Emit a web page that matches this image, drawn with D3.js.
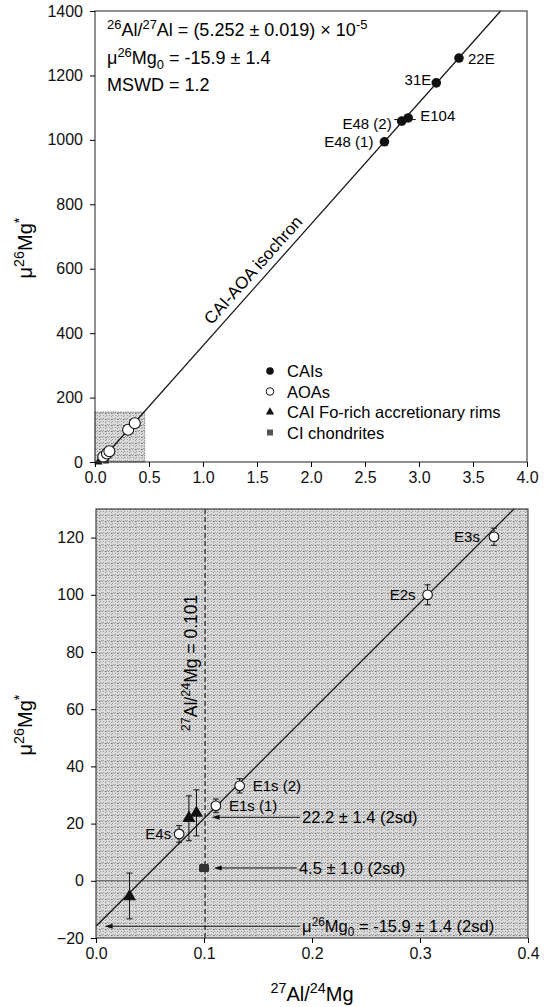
<!DOCTYPE html>
<html>
<head>
<meta charset="utf-8">
<script src="https://cdn.jsdelivr.net/npm/d3@7"></script>
<style>
  body { margin: 0; background: #fff; }
  svg { font-family: "Liberation Sans", Arial, sans-serif; }
</style>
</head>
<body>
<div class="chart-container"></div>
<script>
// CAIs (top panel only)
const caiX = [2.68, 2.84, 2.90, 3.16, 3.37];
const caiY = [994, 1058, 1068, 1177, 1254];
const caiLabels = ["E48 (1)", "E48 (2)", "E104", "31E", "22E"];

// AOAs
const aoaX = [0.077, 0.111, 0.133, 0.307, 0.3685];
const aoaY = [16.4, 26.2, 33.2, 100.0, 120.3];
const aoaErr = [2.9, 2.4, 2.5, 3.5, 3.0];
const aoaLabels = ["E4s", "E1s (1)", "E1s (2)", "E2s", "E3s"];

// CAI Fo-rich accretionary rims
const rimX = [0.031, 0.086, 0.093];
const rimY = [-5.5, 21.9, 23.7];
const rimLo = [-13.3, 14.0, 15.7];
const rimHi = [2.7, 29.7, 31.8];

// CI chondrites
const ciX = [0.1];
const ciY = [4.5];

// isochron
const isoIntercept = -15.9;
const isoSlope = 377;
const alMgRef = 0.101;

const topXTicks = [0, 0.5, 1.0, 1.5, 2.0, 2.5, 3.0, 3.5, 4.0];
const topYTicks = [0, 200, 400, 600, 800, 1000, 1200, 1400];
const botXTicks = [0, 0.1, 0.2, 0.3, 0.4];
const botYTicks = [-20, 0, 20, 40, 60, 80, 100, 120];

const width = 549, height = 1007;
const svg = d3.select(".chart-container").append("svg")
    .attr("width", width).attr("height", height);

// stipple texture for shaded regions
const defs = svg.append("defs");
const pat = defs.append("pattern")
    .attr("id", "stip").attr("patternUnits", "userSpaceOnUse")
    .attr("width", 6).attr("height", 6);
pat.append("rect").attr("width", 6).attr("height", 6).attr("fill", "#dadada");
pat.append("path")
    .attr("d", "M0,6L2,4 M3,3L5,1 M4,6L6,4 M1,2L2,1")
    .attr("stroke", "#7e7e7e").attr("stroke-width", 0.7);
pat.append("rect").attr("x", 3).attr("y", 5).attr("width", 1).attr("height", 1).attr("fill", "#666");

// rich text helper: parts = [[text, "sup"|"sub"|""]]
function richText(sel, parts, size) {
    let shift = 0;
    parts.forEach(([t, mode]) => {
        const ts = sel.append("tspan").text(t);
        let target = 0, fs = size;
        if (mode === "sup") { target = -size * 0.38; fs = size * 0.72; }
        if (mode === "sub") { target = size * 0.25; fs = size * 0.72; }
        ts.attr("dy", target - shift).attr("font-size", fs);
        shift = target;
    });
    return sel;
}

function frame(g, x, y) {
    g.append("rect")
        .attr("x", x.range()[0]).attr("y", y.range()[1])
        .attr("width", x.range()[1] - x.range()[0])
        .attr("height", y.range()[0] - y.range()[1])
        .attr("fill", "none").attr("stroke", "#333").attr("stroke-width", 1.1);
}

function axes(g, x, y, xt, yt, xfmt, yfmt) {
    g.append("g")
        .attr("transform", `translate(0,${y.range()[0]})`)
        .call(d3.axisBottom(x).tickValues(xt).tickFormat(xfmt).tickSize(5).tickPadding(5).tickSizeOuter(0))
        .call(a => a.select(".domain").remove())
        .call(a => a.selectAll("text").attr("font-size", 16).attr("font-family", null).attr("fill", "#111"));
    g.append("g")
        .attr("transform", `translate(${x.range()[0]},0)`)
        .call(d3.axisLeft(y).tickValues(yt).tickFormat(yfmt).tickSize(5).tickPadding(7).tickSizeOuter(0))
        .call(a => a.select(".domain").remove())
        .call(a => a.selectAll("text").attr("font-size", 16).attr("font-family", null).attr("fill", "#111"));
}

function isoLine(g, x, y) {
    const x0 = x.domain()[0], x1 = x.domain()[1];
    const y0 = y.domain()[0], y1 = y.domain()[1];
    let a = Math.max(x0, (y0 - isoIntercept) / isoSlope);
    let b = Math.min(x1, (y1 - isoIntercept) / isoSlope);
    g.append("line")
        .attr("x1", x(a)).attr("y1", y(isoIntercept + isoSlope * a))
        .attr("x2", x(b)).attr("y2", y(isoIntercept + isoSlope * b))
        .attr("stroke", "#111").attr("stroke-width", 1.2);
}

function yLabel(g, cx, cy) {
    const t = g.append("text")
        .attr("transform", `translate(${cx},${cy}) rotate(-90)`)
        .attr("text-anchor", "middle").attr("font-size", 20);
    richText(t, [["μ", ""], ["26", "sup"], ["Mg", ""], ["*", "sup"]], 20);
}

// ---------------- top panel ----------------
const xT = d3.scaleLinear().domain([0, 4]).range([95, 527]);
const yT = d3.scaleLinear().domain([0, 1400]).range([462, 11]);
const topG = svg.append("g");

topG.append("rect")
    .attr("x", xT(0)).attr("y", yT(155))
    .attr("width", xT(0.46) - xT(0)).attr("height", yT(0) - yT(155))
    .attr("fill", "url(#stip)").attr("stroke", "#666").attr("stroke-width", 0.8)
    .attr("stroke-dasharray", "1.5,1");

isoLine(topG, xT, yT);

// rims and CI in overview (hidden under the AOAs mostly)
topG.selectAll(".ci").data(ciX).join("rect")
    .attr("x", (d) => xT(d) - 3).attr("y", (d, i) => yT(ciY[i]) - 3)
    .attr("width", 6).attr("height", 6).attr("fill", "#333");
topG.selectAll(".rim").data(rimX).join("path")
    .attr("d", d3.symbol(d3.symbolTriangle, 30)())
    .attr("transform", (d, i) => `translate(${xT(d)},${yT(Math.max(rimY[i], 0))})`)
    .attr("fill", "#111");

topG.selectAll(".aoaT").data(aoaX).join("circle")
    .attr("cx", d => xT(d)).attr("cy", (d, i) => yT(aoaY[i]))
    .attr("r", 5.5).attr("fill", "#fff").attr("stroke", "#111").attr("stroke-width", 1.1);

// horizontal error bars on E48 (2)/E104
topG.append("line")
    .attr("x1", xT(caiX[1] - 0.07)).attr("x2", xT(caiX[2] + 0.07))
    .attr("y1", yT((caiY[1] + caiY[2]) / 2)).attr("y2", yT((caiY[1] + caiY[2]) / 2))
    .attr("stroke", "#111").attr("stroke-width", 1);

topG.selectAll(".cai").data(caiX).join("circle")
    .attr("cx", d => xT(d)).attr("cy", (d, i) => yT(caiY[i]))
    .attr("r", 4.8).attr("fill", "#111");

const caiLab = topG.append("g").attr("font-size", 15);
const caiAnchor = ["end", "end", "start", "end", "start"];
const caiDx = [-11, -10, 12, -5, 9];
const caiDy = [0, 2, -2, -3, 0];
caiLabels.forEach((l, i) => {
    caiLab.append("text")
        .attr("x", xT(caiX[i]) + caiDx[i]).attr("y", yT(caiY[i]) + 5.5 + caiDy[i])
        .attr("text-anchor", caiAnchor[i]).text(l);
});

// isochron label
{
    const lx = 1.55, ly = isoIntercept + isoSlope * lx;
    const ang = Math.atan2(yT(isoIntercept + isoSlope * 2) - yT(isoIntercept + isoSlope * 1), xT(2) - xT(1)) * 180 / Math.PI;
    topG.append("text")
        .attr("transform", `translate(${xT(lx) - 5},${yT(ly) - 5}) rotate(${ang})`)
        .attr("text-anchor", "middle").attr("font-size", 17)
        .text("CAI-AOA isochron");
}

// annotation block
const ann = topG.append("g").attr("font-size", 18);
richText(ann.append("text").attr("x", 107).attr("y", 36),
    [["26", "sup"], ["Al/", ""], ["27", "sup"], ["Al = (5.252 ± 0.019) × 10", ""], ["-5", "sup"]], 18);
richText(ann.append("text").attr("x", 107).attr("y", 64),
    [["μ", ""], ["26", "sup"], ["Mg", ""], ["0", "sub"], [" = -15.9 ± 1.4", ""]], 18);
ann.append("text").attr("x", 107).attr("y", 91).text("MSWD = 1.2");

// legend
const legNames = ["CAIs", "AOAs", "CAI Fo-rich accretionary rims", "CI chondrites"];
const leg = topG.append("g").attr("font-size", 16.5);
legNames.forEach((n, i) => {
    const cy = 371 + i * 20.5;
    if (i === 0) leg.append("circle").attr("cx", 270).attr("cy", cy).attr("r", 3.8).attr("fill", "#111");
    if (i === 1) leg.append("circle").attr("cx", 270).attr("cy", cy).attr("r", 3.8).attr("fill", "#fff").attr("stroke", "#111");
    if (i === 2) leg.append("path").attr("d", d3.symbol(d3.symbolTriangle, 30)()).attr("transform", `translate(270,${cy})`).attr("fill", "#111");
    if (i === 3) leg.append("rect").attr("x", 267).attr("y", cy - 3).attr("width", 6).attr("height", 6).attr("fill", "#555");
    leg.append("text").attr("x", 287).attr("y", cy + 6).text(n);
});

frame(topG, xT, yT);
axes(topG, xT, yT, topXTicks, topYTicks, d3.format(".1f"), d3.format("d"));
yLabel(topG, 32, 248);

// ---------------- bottom panel ----------------
const xB = d3.scaleLinear().domain([0, 0.4]).range([96, 528]);
const yB = d3.scaleLinear().domain([-20, 130]).range([938, 509]);
const botG = svg.append("g");

botG.append("rect")
    .attr("x", xB(0)).attr("y", yB(130))
    .attr("width", xB(0.4) - xB(0)).attr("height", yB(-20) - yB(130))
    .attr("fill", "url(#stip)");

botG.append("line")
    .attr("x1", xB(0)).attr("x2", xB(0.4)).attr("y1", yB(0)).attr("y2", yB(0))
    .attr("stroke", "#555").attr("stroke-width", 1);

botG.append("line")
    .attr("x1", xB(alMgRef)).attr("x2", xB(alMgRef)).attr("y1", yB(130)).attr("y2", yB(-20))
    .attr("stroke", "#111").attr("stroke-width", 1.1).attr("stroke-dasharray", "5,3");

isoLine(botG, xB, yB);

// error bars
function errBar(g, x, yLo, yHi) {
    g.append("line").attr("x1", x).attr("x2", x).attr("y1", yLo).attr("y2", yHi)
        .attr("stroke", "#111").attr("stroke-width", 1);
    [yLo, yHi].forEach(yy => g.append("line")
        .attr("x1", x - 3).attr("x2", x + 3).attr("y1", yy).attr("y2", yy)
        .attr("stroke", "#111").attr("stroke-width", 1));
}
aoaX.forEach((d, i) => errBar(botG, xB(d), yB(aoaY[i] - aoaErr[i]), yB(aoaY[i] + aoaErr[i])));
rimX.forEach((d, i) => errBar(botG, xB(d), yB(rimLo[i]), yB(rimHi[i])));

botG.selectAll(".rimB").data(rimX).join("path")
    .attr("d", d3.symbol(d3.symbolTriangle, 75)())
    .attr("transform", (d, i) => `translate(${xB(d)},${yB(rimY[i])})`)
    .attr("fill", "#111");

botG.selectAll(".ciB").data(ciX).join("rect")
    .attr("x", d => xB(d) - 5).attr("y", (d, i) => yB(ciY[i]) - 4)
    .attr("width", 10).attr("height", 8).attr("rx", 1.5).attr("fill", "#333");

botG.selectAll(".aoaB").data(aoaX).join("circle")
    .attr("cx", d => xB(d)).attr("cy", (d, i) => yB(aoaY[i]))
    .attr("r", 4.8).attr("fill", "#fff").attr("stroke", "#111").attr("stroke-width", 1.1);

const aoaAnchor = ["end", "start", "start", "end", "end"];
const aoaDx = [-8, 13, 13, -12, -14];
const bl = botG.append("g").attr("font-size", 15);
aoaLabels.forEach((l, i) => {
    bl.append("text")
        .attr("x", xB(aoaX[i]) + aoaDx[i]).attr("y", yB(aoaY[i]) + 5.5)
        .attr("text-anchor", aoaAnchor[i]).text(l);
});

// arrows
const arrowVals = [22.2, 4.5, isoIntercept];
const arrowFrom = [0.189, 0.186, 0.189];
const arrowTo = [0.107, 0.109, 0.008];
function arrow(g, x1, x2, y) {
    g.append("line").attr("x1", x1).attr("x2", x2 + 6).attr("y1", y).attr("y2", y)
        .attr("stroke", "#111").attr("stroke-width", 1);
    g.append("path").attr("d", `M${x2},${y}L${x2 + 8},${y - 2.5}L${x2 + 8},${y + 2.5}Z`).attr("fill", "#111");
}
arrowVals.forEach((v, i) => arrow(botG, xB(arrowFrom[i]), xB(arrowTo[i]), yB(v)));

const at = botG.append("g").attr("font-size", 16.5);
at.append("text").attr("x", xB(arrowFrom[0]) + 2).attr("y", yB(arrowVals[0]) + 6).text("22.2 ± 1.4 (2sd)");
at.append("text").attr("x", xB(arrowFrom[1]) + 2).attr("y", yB(arrowVals[1]) + 6).text("4.5 ± 1.0 (2sd)");
richText(at.append("text").attr("x", xB(arrowFrom[2]) + 2).attr("y", yB(arrowVals[2]) + 6),
    [["μ", ""], ["26", "sup"], ["Mg", ""], ["0", "sub"], [" = -15.9 ± 1.4 (2sd)", ""]], 16.5);

// vertical ratio label
richText(botG.append("text")
    .attr("transform", `translate(${xB(alMgRef) - 8},663) rotate(-90)`)
    .attr("text-anchor", "middle").attr("font-size", 17.5),
    [["27", "sup"], ["Al/", ""], ["24", "sup"], ["Mg = 0.101", ""]], 17.5);

frame(botG, xB, yB);
axes(botG, xB, yB, botXTicks, botYTicks, d3.format(".1f"), d3.format("d"));
yLabel(botG, 32, 725);

richText(botG.append("text").attr("x", xB(0.2)).attr("y", 1001)
    .attr("text-anchor", "middle").attr("font-size", 20),
    [["27", "sup"], ["Al/", ""], ["24", "sup"], ["Mg", ""]], 20);
</script>
</body>
</html>
